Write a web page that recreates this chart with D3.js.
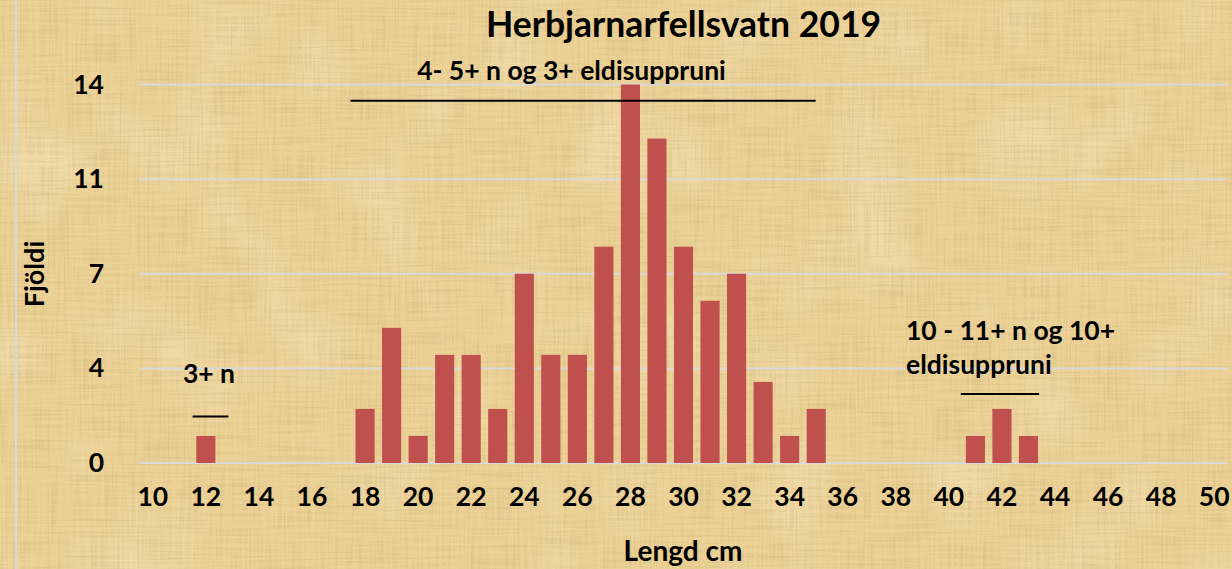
<!DOCTYPE html>
<html>
<head>
<meta charset="utf-8">
<script src="https://cdn.jsdelivr.net/npm/d3@7"></script>
<style>
  body { margin: 0; background: #ecd39a; }
  svg { display: block; }
  text { font-family: Lato, "Open Sans", sans-serif; font-weight: bold; fill: #000; }
</style>
</head>
<body>
<div id="chart"></div>
<script>
// lengths (cm) and number of fish in each
var lengths = [10, 11, 12, 13, 14, 15, 16, 17, 18, 19, 20, 21, 22, 23, 24, 25, 26, 27, 28, 29,
               30, 31, 32, 33, 34, 35, 36, 37, 38, 39, 40, 41, 42, 43, 44, 45, 46, 47, 48, 49, 50];
var counts  = [0, 0, 1, 0, 0, 0, 0, 0, 2, 5, 1, 4, 4, 2, 7, 4, 4, 8, 14, 12,
               8, 6, 7, 3, 1, 2, 0, 0, 0, 0, 0, 1, 2, 1, 0, 0, 0, 0, 0, 0, 0];

var yTicks = [0, 3.5, 7, 10.5, 14];
var yTickLabels = ["0", "4", "7", "11", "14"];
var xTickLabels = [10, 12, 14, 16, 18, 20, 22, 24, 26, 28, 30, 32, 34, 36, 38, 40, 42, 44, 46, 48, 50];

// group annotations: bracket from length x0 to x1 at height y, with notes
var groups = [
  {x0: 11.5, x1: 12.85, y: 1.72, lines: ["3+ n"]},
  {x0: 17.45, x1: 34.98, y: 13.4, lines: ["4- 5+ n og 3+ eldisuppruni"]},
  {x0: 40.45, x1: 43.4, y: 2.55, lines: ["10 - 11+ n og 10+", "eldisuppruni"]}
];

var W = 1232, H = 569;
var svg = d3.select("#chart").append("svg").attr("width", W).attr("height", H);

// papyrus-ish background
var defs = svg.append("defs");
var f = defs.append("filter").attr("id", "papyrus").attr("x", 0).attr("y", 0).attr("width", "100%").attr("height", "100%");
f.append("feTurbulence").attr("type", "fractalNoise").attr("baseFrequency", "0.5 0.015").attr("numOctaves", 2).attr("seed", 4).attr("result", "n1");
f.append("feTurbulence").attr("type", "fractalNoise").attr("baseFrequency", "0.015 0.5").attr("numOctaves", 2).attr("seed", 9).attr("result", "n2");
f.append("feComposite").attr("in", "n1").attr("in2", "n2").attr("operator", "arithmetic")
  .attr("k1", 0).attr("k2", 0.5).attr("k3", 0.5).attr("k4", 0).attr("result", "n3");
f.append("feColorMatrix").attr("in", "n3").attr("type", "matrix")
  .attr("values", "0 0 0 0 0.6  0 0 0 0 0.45  0 0 0 0 0.2  -4 0 0 0 2.2");
var f2 = defs.append("filter").attr("id", "blotch").attr("x", 0).attr("y", 0).attr("width", "100%").attr("height", "100%");
f2.append("feTurbulence").attr("type", "fractalNoise").attr("baseFrequency", "0.012 0.01").attr("numOctaves", 2).attr("seed", 2);
f2.append("feColorMatrix").attr("type", "matrix")
  .attr("values", "0 0 0 0 1  0 0 0 0 0.93  0 0 0 0 0.75  3 0 0 0 -1.5");

svg.append("rect").attr("width", W).attr("height", H).attr("fill", "#ebd195");
svg.append("rect").attr("width", W).attr("height", H).attr("filter", "url(#blotch)").attr("opacity", 0.25);
svg.append("rect").attr("width", W).attr("height", H).attr("filter", "url(#papyrus)").attr("opacity", 0.4);
svg.append("line").attr("x1", 16).attr("x2", 16).attr("y1", 0).attr("y2", H)
  .attr("stroke", "#d9d9d9").attr("stroke-width", 2);

var x = d3.scaleBand().domain(lengths).range([139.5, 1227.5]).paddingInner(0.28).paddingOuter(0.14);
var y = d3.scaleLinear().domain([0, 14]).range([463, 84.5]);
var xc = d3.scaleLinear().domain([10, 50])
  .range([x(10) + x.bandwidth() / 2, x(50) + x.bandwidth() / 2]);

// gridlines
svg.append("g").selectAll("line").data(yTicks).enter().append("line")
  .attr("x1", 139.5).attr("x2", 1227.5)
  .attr("y1", function(d) { return y(d); }).attr("y2", function(d) { return y(d); })
  .attr("stroke", "#d9d9d9").attr("stroke-width", 2);

// bars
svg.append("g").selectAll("rect").data(lengths).enter().append("rect")
  .attr("x", function(d) { return x(d); })
  .attr("width", x.bandwidth())
  .attr("y", function(d, i) { return y(counts[i]); })
  .attr("height", function(d, i) { return y(0) - y(counts[i]); })
  .attr("fill", "#c0504d");

var FS = 26.5; // body text size

// y axis labels
svg.append("g").selectAll("text").data(yTicks).enter().append("text")
  .attr("x", 104).attr("y", function(d) { return y(d) + 9; })
  .attr("text-anchor", "end").attr("font-size", FS)
  .text(function(d, i) { return yTickLabels[i]; });

// x axis labels
svg.append("g").selectAll("text").data(xTickLabels).enter().append("text")
  .attr("x", function(d) { return xc(d); }).attr("y", 506)
  .attr("text-anchor", "middle").attr("font-size", FS)
  .text(function(d) { return d; });

// titles
svg.append("text").attr("x", 683.5).attr("y", 37).attr("text-anchor", "middle")
  .attr("font-size", 35.5).text("Herbjarnarfellsvatn 2019");
svg.append("text").attr("x", 683).attr("y", 561).attr("text-anchor", "middle")
  .attr("font-size", 28).text("Lengd cm");
svg.append("text").attr("transform", "translate(44,274) rotate(-90)").attr("text-anchor", "middle")
  .attr("font-size", 27).text("Fjöldi");

// group brackets and notes
svg.append("g").selectAll("line").data(groups).enter().append("line")
  .attr("x1", function(d) { return xc(d.x0); }).attr("x2", function(d) { return xc(d.x1); })
  .attr("y1", function(d) { return y(d.y); }).attr("y2", function(d) { return y(d.y); })
  .attr("stroke", "#000").attr("stroke-width", 2);

svg.append("text").attr("x", 209).attr("y", 383).attr("text-anchor", "middle")
  .attr("font-size", FS).text(groups[0].lines[0]);
svg.append("text").attr("x", 571.5).attr("y", 80).attr("text-anchor", "middle")
  .attr("font-size", FS).text(groups[1].lines[0]);
svg.append("text").attr("x", 906).attr("y", 340).attr("font-size", FS).text(groups[2].lines[0]);
svg.append("text").attr("x", 906).attr("y", 374).attr("font-size", FS).text(groups[2].lines[1]);
</script>
</body>
</html>
